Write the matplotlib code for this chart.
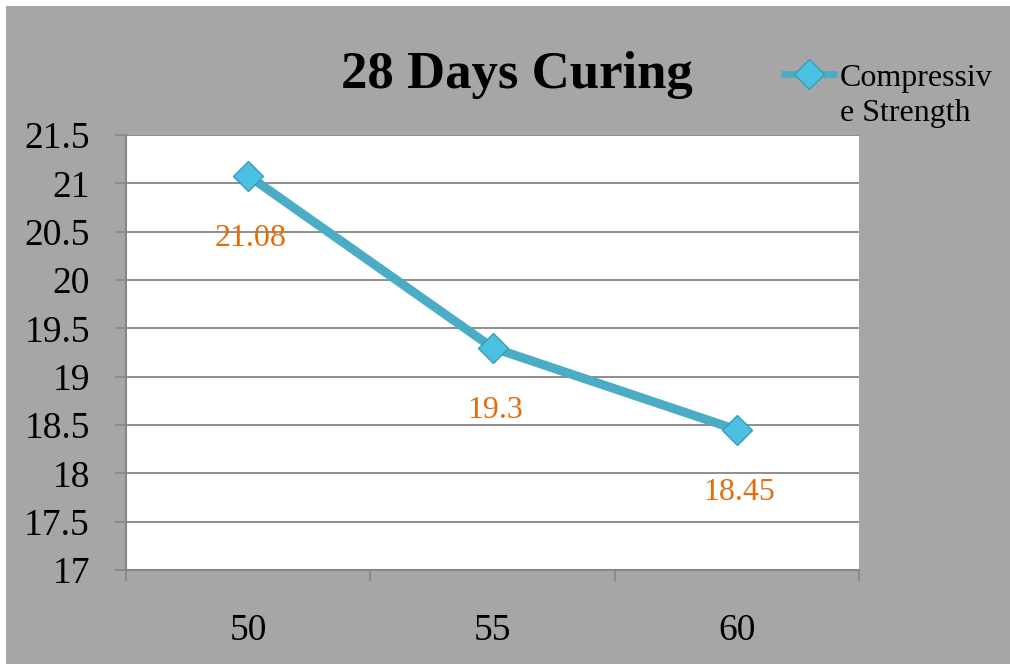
import matplotlib
matplotlib.use("Agg")
import matplotlib.pyplot as plt
from matplotlib.patches import Rectangle
from matplotlib.ticker import FixedLocator, NullFormatter

# Compressive strength after 28 days of curing
categories = ["50", "55", "60"]
strength = [21.08, 19.3, 18.45]
value_labels = ["21.08", "19.3", "18.45"]
y_ticks = [17, 17.5, 18, 18.5, 19, 19.5, 20, 20.5, 21, 21.5]
y_tick_labels = ["17", "17.5", "18", "18.5", "19", "19.5", "20", "20.5", "21", "21.5"]
series_name = ["Compressiv", "e Strength"]

plt.rcParams["font.family"] = ["Liberation Serif", "DejaVu Serif"]

BG = "#a6a6a6"
LINE = "#4bacc6"
GRID = "#868686"
LABEL = "#e46c0a"

fig = plt.figure(figsize=(10.1, 6.64), dpi=100, facecolor="white")
fig.patches.append(Rectangle((6 / 1010, 0), 1 - 6 / 1010, 1 - 6 / 664,
                             transform=fig.transFigure, facecolor=BG,
                             edgecolor="none", zorder=-10))

ax = fig.add_axes([126 / 1010, 94 / 664, 733 / 1010, 435 / 664])
ax.set_facecolor("white")

x = list(range(len(categories)))
line, = ax.plot(x, strength, color=LINE, linewidth=6.5, solid_capstyle="butt",
                marker="D", markersize=15, markerfacecolor="#4cc0e0",
                markeredgecolor="#3a9ab8", markeredgewidth=1.0, zorder=3)

for xi, yi, txt in zip(x, strength, value_labels):
    ax.annotate(txt, (xi, yi), xytext=(2, -45), textcoords="offset points",
                ha="center", va="center", color=LABEL, fontsize=23)

ax.set_xlim(-0.5, len(categories) - 0.5)
ax.set_ylim(17, 21.5)

ax.yaxis.set_major_locator(FixedLocator(y_ticks))
ax.set_yticklabels(y_tick_labels)
ax.yaxis.grid(True, color=GRID, linewidth=1.3)
ax.set_axisbelow(True)

ax.xaxis.set_major_locator(FixedLocator([i - 0.5 for i in range(len(categories) + 1)]))
ax.xaxis.set_major_formatter(NullFormatter())
ax.xaxis.set_minor_locator(FixedLocator(x))
ax.set_xticklabels(categories, minor=True)

ax.tick_params(axis="y", which="major", direction="out", length=8, width=1.2,
               color=GRID, labelsize=27, pad=18)
ax.tick_params(axis="x", which="major", direction="out", length=8, width=1.2,
               color=GRID)
ax.tick_params(axis="x", which="minor", length=0, labelsize=27, pad=31)

for side in ("top", "right"):
    ax.spines[side].set_visible(False)
for side in ("left", "bottom"):
    ax.spines[side].set_color(GRID)
    ax.spines[side].set_linewidth(1.5)

fig.text(517 / 1010, 1 - 75 / 664, "28 Days Curing", ha="center", va="center",
         fontsize=38, fontweight="bold", color="black")

# Legend: handle sits beside the first line of the wrapped series name
leg = fig.legend([line], [series_name[0]], loc="center left",
                 bbox_to_anchor=(781 / 1010, 1 - 78 / 664),
                 frameon=False, fontsize=23, handlelength=1.75, handletextpad=0.1,
                 borderpad=0, borderaxespad=0)
leg.get_lines()[0].set_linewidth(5)
fig.canvas.draw()
t0 = leg.get_texts()[0]
bb = t0.get_window_extent()
fig.text(bb.x0 / fig.bbox.width, 1 - 113 / 664, series_name[1], ha="left",
         va="center", fontsize=23, color="black")

fig.savefig("out.png", dpi=100, facecolor=fig.get_facecolor())
